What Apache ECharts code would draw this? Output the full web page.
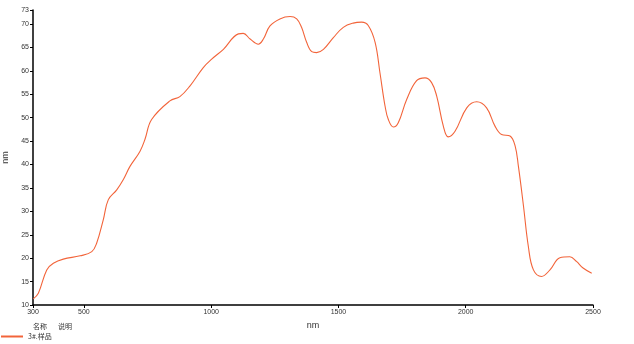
<!DOCTYPE html>
<html><head><meta charset="utf-8">
<script src="https://cdn.jsdelivr.net/npm/echarts@6/dist/echarts.min.js"></script>
<style>html,body{margin:0;padding:0;background:#fff}#c{width:634px;height:344px}</style>
</head><body><div id="c"></div>
<script>
const wavelengths = [301,321,354,380,419,485,531,550,576,596,629,655,681,720,740,766,838,877,917,969,1002,1048,1107,1126,1153,1185,1205,1231,1270,1310,1336,1355,1375,1395,1414,1441,1480,1519,1558,1591,1617,1644,1663,1683,1696,1716,1735,1768,1807,1840,1866,1886,1912,1931,1958,2004,2043,2082,2115,2141,2174,2194,2207,2227,2246,2266,2298,2331,2370,2409,2435,2461,2495];
const values = [11.3,12.5,17.5,18.9,19.8,20.5,21.4,23.2,28.2,32.5,34.6,36.8,39.6,42.8,45.4,49.6,53.6,54.5,56.8,60.7,62.5,64.6,67.9,68.0,66.8,65.7,66.8,69.6,71.1,71.6,71.1,69.3,66.1,64.1,63.9,64.6,67.1,69.3,70.2,70.4,69.7,66.1,59.6,52.5,49.6,48.0,48.9,53.9,57.9,58.5,57.5,54.6,48.2,45.9,47.1,52.1,53.4,52.1,48.2,46.4,46.1,44.0,39.6,31.1,22.5,17.5,16.1,17.5,20.1,20.3,19.3,17.9,16.8];
const xTicks = [300,500,1000,1500,2000,2500];
const yTicks = [10,15,20,25,30,35,40,45,50,55,60,65,70,73];
const seriesName = '3#.样品';
const legendHeaders = ['名称','说明'];

const chart = echarts.init(document.getElementById('c'));
const font = 'Liberation Sans, Arial, sans-serif';
chart.setOption({
  animation:false,
  grid:{left:33,right:41,top:10,bottom:39,containLabel:false,outerBoundsMode:'none'},
  xAxis:{type:'value',min:300,max:2500,name:'nm',nameLocation:'middle',nameGap:12,
    nameTextStyle:{fontSize:9,color:'#333',fontFamily:font},
    axisLine:{lineStyle:{color:'#000',width:1.5}},
    axisTick:{customValues:xTicks,length:3,inside:false,lineStyle:{color:'#000'}},
    axisLabel:{customValues:xTicks,fontSize:7,color:'#333',margin:4,fontFamily:font,formatter:v=>String(v)},
    splitLine:{show:false}},
  yAxis:{type:'value',min:10,max:73,name:'nm',nameLocation:'middle',nameGap:21,
    nameTextStyle:{fontSize:9,color:'#333',fontFamily:font},
    axisLine:{show:true,lineStyle:{color:'#000',width:1.5}},
    axisTick:{show:true,customValues:yTicks,length:3,lineStyle:{color:'#000'}},
    axisLabel:{customValues:yTicks,fontSize:7,color:'#333',margin:4,fontFamily:font},
    splitLine:{show:false}},
  legend:{left:0,top:333,itemWidth:22,itemHeight:2,itemGap:6,icon:'rect',padding:[0,0,0,1],
    textStyle:{fontSize:7,color:'#333',fontFamily:'Noto Sans CJK SC'},data:[seriesName]},
  graphic:[
    {type:'text',left:33,top:323,style:{text:legendHeaders[0],fill:'#333',font:'7px "Noto Sans CJK SC"'}},
    {type:'text',left:58,top:323,style:{text:legendHeaders[1],fill:'#333',font:'7px "Noto Sans CJK SC"'}}
  ],
  series:[{name:seriesName,type:'line',smooth:0.4,showSymbol:false,
    lineStyle:{color:'#f2643a',width:1.1},itemStyle:{color:'#f2643a'},
    data:wavelengths.map((w,i)=>[w,values[i]])}]
});
</script></body></html>
